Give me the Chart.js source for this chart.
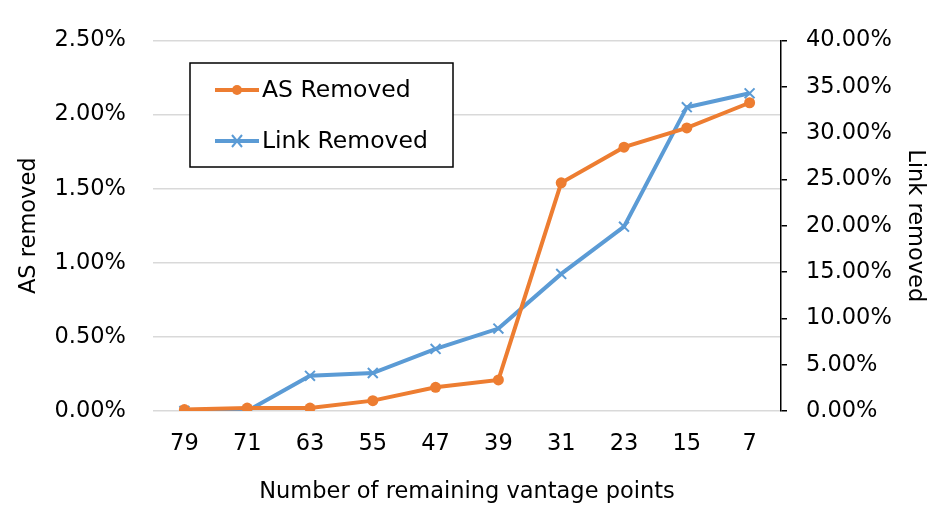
<!DOCTYPE html>
<html><head><meta charset="utf-8">
<script src="https://cdn.jsdelivr.net/npm/chart.js@4/dist/chart.umd.min.js"></script>
<style>html,body{margin:0;padding:0;background:#fff}#wrap{width:946px;height:532px}</style>
</head><body><div id="wrap"><canvas id="c" width="946" height="532"></canvas></div>
<script>
const categories = ['79','71','63','55','47','39','31','23','15','7'];
const asRemoved = [0.01, 0.02, 0.02, 0.07, 0.16, 0.21, 1.54, 1.78, 1.91, 2.08];
const linkRemoved = [0.0, 0.0, 3.8, 4.1, 6.7, 8.9, 14.8, 19.9, 32.8, 34.3];
const leftTicks = [0, 0.5, 1.0, 1.5, 2.0, 2.5];
const rightTicks = [0, 5, 10, 15, 20, 25, 30, 35, 40];

const FONT = '"DejaVu Sans", sans-serif';
const FS = 22.5;
const ORANGE = '#ED7D31', BLUE = '#5B9BD5';

const legendPlugin = {
  id: 'boxLegend',
  afterDraw(chart) {
    const ctx = chart.ctx;
    const x = 190, y = 63, w = 263, h = 104;
    ctx.save();
    ctx.fillStyle = '#fff';
    ctx.fillRect(x, y, w, h);
    ctx.strokeStyle = '#000';
    ctx.lineWidth = 1.5;
    ctx.strokeRect(x, y, w, h);
    const rows = [90, 141];
    chart.data.datasets.forEach((ds, i) => {
      const yy = rows[i];
      ctx.strokeStyle = ds.borderColor;
      ctx.lineWidth = 4;
      ctx.beginPath(); ctx.moveTo(215, yy); ctx.lineTo(259, yy); ctx.stroke();
      if (ds.pointStyle === 'circle') {
        ctx.fillStyle = ds.borderColor;
        ctx.beginPath(); ctx.arc(237, yy, 5, 0, Math.PI * 2); ctx.fill();
      } else {
        ctx.lineWidth = 2;
        ctx.beginPath();
        ctx.moveTo(232, yy - 6); ctx.lineTo(242, yy + 6);
        ctx.moveTo(242, yy - 6); ctx.lineTo(232, yy + 6);
        ctx.stroke();
      }
      ctx.fillStyle = '#000';
      ctx.font = '23.5px ' + FONT;
      ctx.textBaseline = 'middle';
      ctx.textAlign = 'left';
      ctx.fillText(ds.label, 262, yy + 1);
    });
    ctx.restore();
  }
};

new Chart(document.getElementById('c'), {
  type: 'line',
  data: {
    labels: categories,
    datasets: [
      { label: 'AS Removed', data: asRemoved, yAxisID: 'y', borderColor: ORANGE, backgroundColor: ORANGE,
        borderWidth: 4, pointStyle: 'circle', pointRadius: 5.5, pointBorderWidth: 0, tension: 0 },
      { label: 'Link Removed', data: linkRemoved, yAxisID: 'y1', borderColor: BLUE, backgroundColor: BLUE,
        borderWidth: 4, pointStyle: 'crossRot', pointRadius: 7, pointBorderWidth: 2, tension: 0 }
    ]
  },
  options: {
    responsive: false,
    animation: false,
    layout: { padding: { top: 38, left: 0, right: 0, bottom: 0 } },
    plugins: { legend: { display: false }, tooltip: { enabled: false } },
    scales: {
      x: {
        offset: true,
        grid: { display: false, offset: true },
        border: { display: false },
        ticks: { color: '#000', font: { family: FONT, size: FS }, padding: 12, maxRotation: 0 },
        title: { display: true, text: 'Number of remaining vantage points', color: '#000',
                 font: { family: FONT, size: FS }, padding: { top: 0, bottom: 26 } },
        afterFit(s) { s.height = 121; }
      },
      y: {
        position: 'left', min: 0, max: 2.5,
        afterBuildTicks(s) { s.ticks = leftTicks.map(v => ({ value: v })); },
        grid: { color: '#d9d9d9', lineWidth: 1.5, drawTicks: false },
        border: { display: false },
        ticks: { color: '#000', font: { family: FONT, size: FS }, padding: 27,
                 callback: v => v.toFixed(2) + '%' },
        title: { display: true, text: 'AS removed', color: '#000',
                 font: { family: FONT, size: FS }, padding: { top: 16, bottom: 0 } },
        afterFit(s) { s.width = 153; }
      },
      y1: {
        position: 'right', min: 0, max: 40,
        afterBuildTicks(s) { s.ticks = rightTicks.map(v => ({ value: v })); },
        grid: { drawOnChartArea: false, color: '#000', lineWidth: 1.5, tickLength: 6 },
        border: { display: true, color: '#000', width: 1.5 },
        ticks: { color: '#000', font: { family: FONT, size: FS }, padding: 19,
                 callback: v => v.toFixed(2) + '%' },
        title: { display: true, text: 'Link removed', color: '#000',
                 font: { family: FONT, size: FS }, padding: { top: 18, bottom: 0 } },
        afterFit(s) { s.width = 165; }
      }
    }
  },
  plugins: [legendPlugin]
});
</script></body></html>
